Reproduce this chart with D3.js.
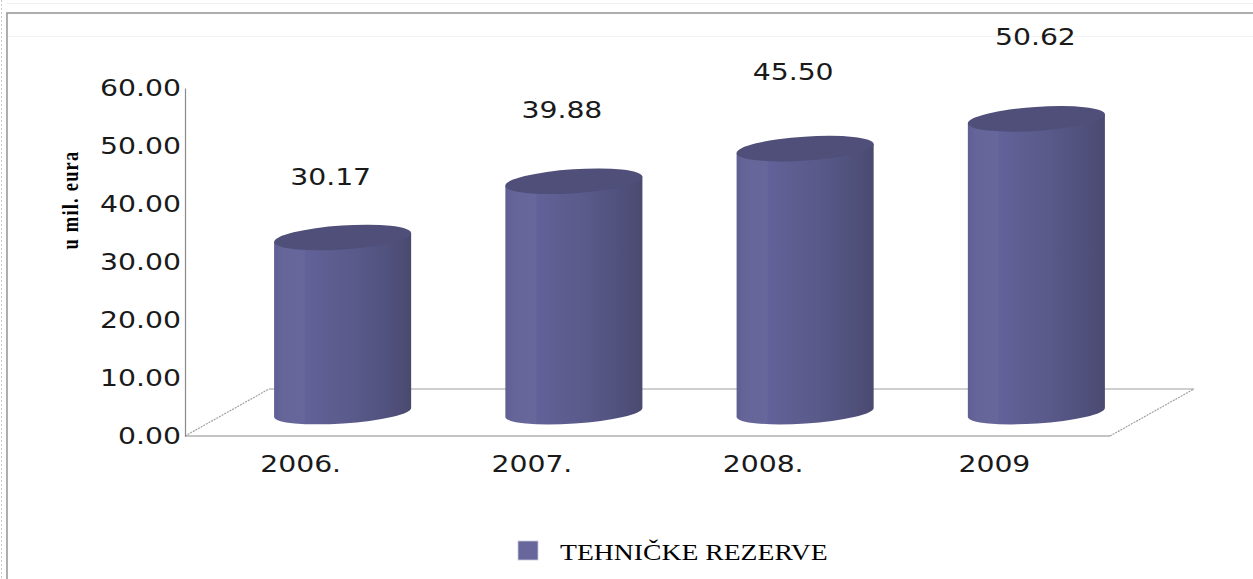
<!DOCTYPE html>
<html>
<head>
<meta charset="utf-8">
<script src="https://cdn.jsdelivr.net/npm/d3@7"></script>
<style>
  html, body { margin: 0; padding: 0; background: #fff; }
  svg { display: block; }
</style>
</head>
<body>
<svg id="chart" width="1253" height="579"></svg>
<script>
// ---- data ----
const categories = ["2006.", "2007.", "2008.", "2009"];
const values = [30.17, 39.88, 45.50, 50.62];
const valueLabels = ["30.17", "39.88", "45.50", "50.62"];
const yTicks = [0, 10, 20, 30, 40, 50, 60];
const seriesName = "TEHNIČKE REZERVE";
const yTitle = "u mil. eura";

// ---- layout ----
const W = 1253, H = 579;
const SX = 1.23;               // horizontal stretch of the source picture's text
const plot = { left: 185, right: 1110, top: 88, bottom: 436 };
const depth = { dx: 84, dy: -47 };

const svg = d3.select("#chart");

const y = d3.scaleLinear().domain([0, 60]).range([plot.bottom, plot.top]);
const x = d3.scaleBand().domain(categories).range([plot.left, plot.right]);

// gradient for cylinder bodies
const defs = svg.append("defs");
const grad = defs.append("linearGradient").attr("id", "cyl").attr("x1", "0").attr("x2", "1").attr("y1", "0").attr("y2", "0");
[[0, "#5f5f93"], [0.06, "#65659a"], [0.22, "#67679b"], [0.23, "#62629a"], [0.42, "#5d5d90"], [0.6, "#59598a"],
 [0.78, "#535380"], [0.92, "#4d4d77"], [1, "#4a4a70"]].forEach(([o, c]) =>
  grad.append("stop").attr("offset", o).attr("stop-color", c));

// ---- frame ----
svg.append("line").attr("x1", 1.5).attr("x2", 1.5).attr("y1", 0).attr("y2", H)
  .attr("stroke", "#c8c8c8").attr("stroke-dasharray", "2,2");
svg.append("line").attr("x1", 7).attr("x2", W).attr("y1", 3.5).attr("y2", 3.5).attr("stroke", "#f0f0f0");
svg.append("rect").attr("x", 7).attr("y", 13).attr("width", W + 20).attr("height", H + 20)
  .attr("fill", "#fff").attr("stroke", "#9a9a9a").attr("stroke-width", 1.6);
svg.append("line").attr("x1", 8).attr("x2", W).attr("y1", 36.5).attr("y2", 36.5).attr("stroke", "#f2f2f2");

// ---- floor ----
const floor = svg.append("g").attr("fill", "none").attr("stroke", "#a0a0a0").attr("stroke-width", 1.2);
floor.append("line").attr("x1", plot.left + depth.dx).attr("y1", y(0) + depth.dy)
  .attr("x2", plot.right + depth.dx).attr("y2", y(0) + depth.dy);
floor.append("line").attr("x1", plot.left).attr("y1", y(0))
  .attr("x2", plot.left + depth.dx).attr("y2", y(0) + depth.dy).attr("stroke-dasharray", "2,1");
floor.append("line").attr("x1", plot.right).attr("y1", y(0))
  .attr("x2", plot.right + depth.dx).attr("y2", y(0) + depth.dy).attr("stroke-dasharray", "2,1");
floor.append("line").attr("x1", plot.left).attr("y1", y(0))
  .attr("x2", plot.right).attr("y2", y(0)).attr("stroke", "#8a8a8a");

// ---- y axis ----
const yAxis = svg.append("g").attr("transform", `translate(${plot.left},0)`)
  .call(d3.axisLeft(y).tickValues(yTicks).tickFormat(d3.format(".2f")).tickSize(0));
yAxis.select(".domain").attr("stroke", "#8a8a8a").attr("stroke-width", 1.2);
yAxis.selectAll("text")
  .attr("x", 0)
  .attr("transform", `translate(-4,0) scale(${SX},1)`)
  .attr("font-family", "DejaVu Sans, Verdana, sans-serif")
  .attr("font-size", 23)
  .attr("fill", "#1a1a1a");

// y title
svg.append("text")
  .attr("transform", `translate(78,200) scale(${SX},1) rotate(-90)`)
  .attr("text-anchor", "middle")
  .attr("font-family", "Liberation Serif, Times New Roman, serif")
  .attr("font-weight", "bold")
  .attr("font-size", 18.5)
  .attr("letter-spacing", "1.2px")
  .attr("fill", "#000")
  .text(yTitle);

// ---- x axis labels ----
const xAxis = svg.append("g").attr("transform", `translate(0,${plot.bottom})`)
  .call(d3.axisBottom(x).tickSize(0));
xAxis.select(".domain").remove();
xAxis.selectAll("text")
  .attr("y", 0).attr("dy", 0)
  .attr("transform", `translate(0,36) scale(${SX},1)`)
  .attr("font-family", "DejaVu Sans, Verdana, sans-serif")
  .attr("font-size", 23)
  .attr("fill", "#1a1a1a");

// ---- cylinders ----
const theta = -3.8 * Math.PI / 180;
const rx = x.bandwidth() * 0.297;
const ryTop = 12, ryBot = 11;
const data = categories.map((c, i) => ({ c, v: values[i], label: valueLabels[i] }));

const cyl = svg.append("g").selectAll("g").data(data).join("g");
cyl.each(function (d) {
  const g = d3.select(this);
  const cx = x(d.c) + x.bandwidth() / 2 + depth.dx / 2;
  const cyTop = y(d.v) + depth.dy / 2;
  const cyBot = y(0) + depth.dy / 2;
  const a = rx * Math.cos(theta), s = rx * Math.sin(theta);
  const path = `M${cx - a},${cyTop - s} L${cx - a},${cyBot - s} ` +
    `A${rx},${ryBot} ${theta * 180 / Math.PI} 0 0 ${cx + a},${cyBot + s} ` +
    `L${cx + a},${cyTop + s} Z`;
  g.append("path").attr("d", path).attr("fill", "url(#cyl)");
  g.append("ellipse")
    .attr("cx", cx).attr("cy", cyTop).attr("rx", rx).attr("ry", ryTop)
    .attr("transform", `rotate(${theta * 180 / Math.PI},${cx},${cyTop})`)
    .attr("fill", "#4f4f79");
});

// value labels
const labelY = v => y(v * 1.18) + depth.dy / 2 - 30;
svg.append("g").selectAll("text").data(data).join("text")
  .attr("transform", (d, i) => `translate(${x(d.c) + x.bandwidth() / 2 + depth.dx / 2 - (i === 3 ? 1 : 12)},${labelY(d.v) + 8.5}) scale(${SX},1)`)
  .attr("text-anchor", "middle")
  .attr("font-family", "DejaVu Sans, Verdana, sans-serif")
  .attr("font-size", 23)
  .attr("fill", "#1a1a1a")
  .text(d => d.label);

// ---- legend ----
const legend = svg.append("g").attr("transform", "translate(518,541)");
legend.append("rect").attr("width", 20).attr("height", 19)
  .attr("fill", "#67679c").attr("stroke", "#c9c9dc").attr("stroke-width", 0.8);
legend.append("text")
  .attr("transform", `translate(42,19) scale(${SX},1)`)
  .attr("font-family", "Liberation Serif, Times New Roman, serif")
  .attr("font-size", 22.5)
  .attr("fill", "#000")
  .text(seriesName);
</script>
</body>
</html>
